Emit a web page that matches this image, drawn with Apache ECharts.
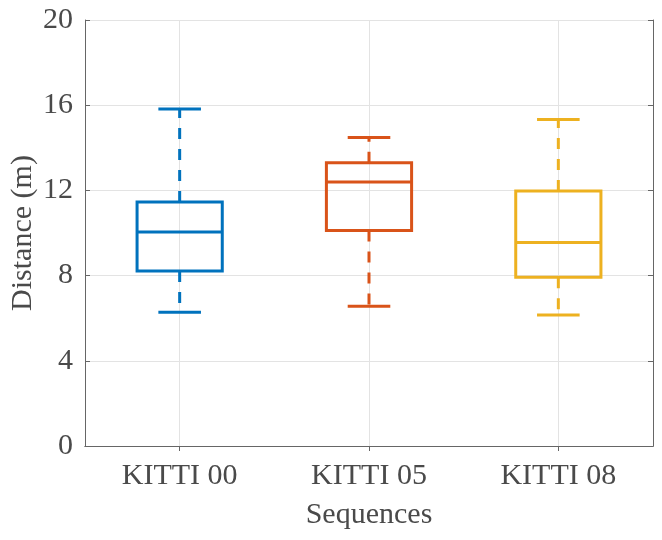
<!DOCTYPE html>
<html>
<head>
<meta charset="utf-8">
<script src="https://cdn.jsdelivr.net/npm/echarts@6/dist/echarts.min.js"></script>
<style>
  html, body { margin: 0; padding: 0; background: #fff; }
  #chart { width: 662px; height: 540px; }
</style>
</head>
<body>
<div id="chart"></div>
<script>
// box plot data
var categories = ['KITTI 00', 'KITTI 05', 'KITTI 08'];
var lowWhisker = [6.28, 6.56, 6.15];
var q1 = [8.22, 10.12, 7.92];
var median = [10.05, 12.40, 9.55];
var q3 = [11.45, 13.30, 11.97];
var highWhisker = [15.82, 14.48, 15.33];
var yTicks = [0, 4, 8, 12, 16, 20];

var colors = ['#0072BD', '#D95319', '#EDB120'];
var font = '"Liberation Serif", "Times New Roman", serif';
var textColor = '#4a4a4a';
var axisColor = '#666';
var gridColor = '#e3e3e3';

var boxData = categories.map(function (c, i) {
  return [i, lowWhisker[i], q1[i], median[i], q3[i], highWhisker[i]];
});

function renderBox(params, api) {
  var i = api.value(0);
  var pLow = api.coord([i, api.value(1)]);
  var pQ1 = api.coord([i, api.value(2)]);
  var pMed = api.coord([i, api.value(3)]);
  var pQ3 = api.coord([i, api.value(4)]);
  var pHigh = api.coord([i, api.value(5)]);
  var bw = api.size([1, 0])[0] * 0.45;
  var cw = bw / 2;
  var x = pMed[0];
  var col = colors[params.dataIndex];
  var solid = { stroke: col, lineWidth: 3, fill: 'none' };
  var dashed = { stroke: col, lineWidth: 3, lineDash: [11, 10] };
  return {
    type: 'group',
    children: [
      { type: 'line', shape: { x1: x, y1: pQ3[1], x2: x, y2: pHigh[1] }, style: dashed },
      { type: 'line', shape: { x1: x, y1: pQ1[1], x2: x, y2: pLow[1] }, style: dashed },
      { type: 'line', shape: { x1: x - cw / 2, y1: pHigh[1], x2: x + cw / 2, y2: pHigh[1] }, style: solid },
      { type: 'line', shape: { x1: x - cw / 2, y1: pLow[1], x2: x + cw / 2, y2: pLow[1] }, style: solid },
      { type: 'rect', shape: { x: x - bw / 2, y: pQ3[1], width: bw, height: pQ1[1] - pQ3[1] }, style: solid },
      { type: 'line', shape: { x1: x - bw / 2, y1: pMed[1], x2: x + bw / 2, y2: pMed[1] }, style: solid }
    ]
  };
}

var chart = echarts.init(document.getElementById('chart'), null, { renderer: 'canvas' });
chart.setOption({
  animation: false,
  backgroundColor: '#fff',
  grid: { left: 85, right: 9, top: 20, bottom: 94, containLabel: false, outerBoundsMode: 'none' },
  xAxis: [{
    type: 'category',
    data: categories,
    boundaryGap: true,
    name: 'Sequences',
    nameLocation: 'middle',
    nameGap: 54,
    nameMoveOverlap: false,
    nameTextStyle: { fontFamily: font, fontSize: 30, color: textColor },
    axisLine: { show: true, lineStyle: { color: axisColor, width: 1 } },
    axisTick: { show: true, inside: true, alignWithLabel: true, length: 5, lineStyle: { color: axisColor } },
    axisLabel: { fontFamily: font, fontSize: 30, color: textColor, margin: 15 },
    splitLine: { show: false }
  }, {
    type: 'category',
    data: categories,
    position: 'top',
    boundaryGap: true,
    axisLine: { show: true, lineStyle: { color: axisColor, width: 1 } },
    axisTick: { show: true, inside: true, alignWithLabel: true, length: 5, lineStyle: { color: axisColor } },
    axisLabel: { show: false },
    splitLine: { show: false }
  }],
  yAxis: [{
    type: 'value',
    min: yTicks[0],
    max: yTicks[yTicks.length - 1],
    interval: 4,
    name: 'Distance (m)',
    nameLocation: 'middle',
    nameGap: 47,
    nameMoveOverlap: false,
    nameTextStyle: { fontFamily: font, fontSize: 30, color: textColor },
    axisLine: { show: true, lineStyle: { color: axisColor, width: 1 } },
    axisTick: { show: true, inside: true, length: 5, lineStyle: { color: axisColor } },
    axisLabel: { fontFamily: font, fontSize: 30, color: textColor, margin: 12 },
    splitLine: { show: true, lineStyle: { color: gridColor, width: 1 } }
  }, {
    type: 'value',
    position: 'right',
    min: yTicks[0],
    max: yTicks[yTicks.length - 1],
    interval: 4,
    axisLine: { show: true, lineStyle: { color: axisColor, width: 1 } },
    axisTick: { show: true, inside: true, length: 5, lineStyle: { color: axisColor } },
    axisLabel: { show: false },
    splitLine: { show: false }
  }],
  series: [{
    // vertical grid lines through the category centres
    type: 'line',
    data: [],
    z: 1,
    silent: true,
    markLine: {
      silent: true,
      symbol: 'none',
      label: { show: false },
      lineStyle: { color: gridColor, width: 1, type: 'solid' },
      data: categories.map(function (c) { return { xAxis: c }; })
    }
  }, {
    type: 'custom',
    renderItem: renderBox,
    data: boxData,
    encode: { x: 0, y: [1, 2, 3, 4, 5] },
    z: 10
  }]
});
</script>
</body>
</html>
